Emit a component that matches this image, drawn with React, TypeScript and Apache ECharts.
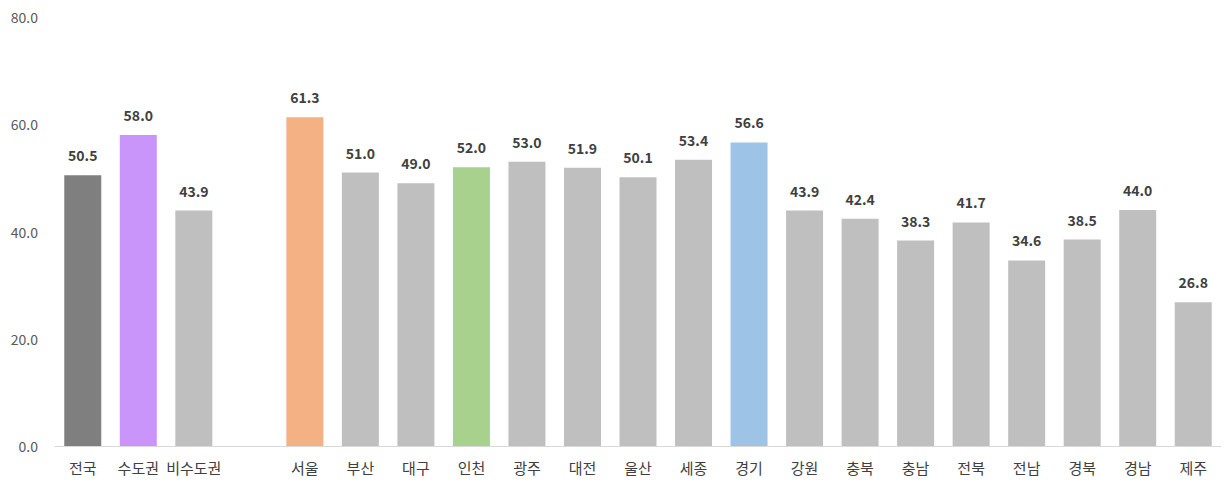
import React, { useEffect, useRef } from "react";
import * as echarts from "echarts";

const categories = ["전국", "수도권", "비수도권", "", "서울", "부산", "대구", "인천", "광주", "대전", "울산", "세종", "경기", "강원", "충북", "충남", "전북", "전남", "경북", "경남", "제주"];
const values: (number | null)[] = [50.5, 58.0, 43.9, null, 61.3, 51.0, 49.0, 52.0, 53.0, 51.9, 50.1, 53.4, 56.6, 43.9, 42.4, 38.3, 41.7, 34.6, 38.5, 44.0, 26.8];
const barColors = ["#7f7f7f", "#c995fb", "#bfbfbf", "#bfbfbf", "#f4b183", "#bfbfbf", "#bfbfbf", "#a9d18e", "#bfbfbf", "#bfbfbf", "#bfbfbf", "#bfbfbf", "#9dc3e6", "#bfbfbf", "#bfbfbf", "#bfbfbf", "#bfbfbf", "#bfbfbf", "#bfbfbf", "#bfbfbf", "#bfbfbf"];

export default function App() {
  const ref = useRef<HTMLDivElement>(null);
  useEffect(() => {
    if (!ref.current) return;
    const chart = echarts.init(ref.current, null, { renderer: "svg" });
    const font = "'Noto Sans CJK KR', 'Noto Sans', sans-serif";
    chart.setOption({
      animation: false,
      textStyle: { fontFamily: font },
      grid: { left: 55, right: 5, top: 17, bottom: 40 },
      xAxis: {
        type: "category",
        data: categories,
        axisLine: { lineStyle: { color: "#d9d9d9", width: 1 } },
        axisTick: { show: false },
        axisLabel: { color: "#404040", fontSize: 15, margin: 14, interval: 0, fontFamily: font },
      },
      yAxis: {
        type: "value",
        min: 0,
        max: 80,
        interval: 20,
        splitLine: { show: false },
        axisLine: { show: false },
        axisTick: { show: false },
        axisLabel: { color: "#595959", fontSize: 14, margin: 17, formatter: (v: number) => v.toFixed(1), fontFamily: font },
      },
      series: [
        {
          type: "bar",
          barWidth: 37,
          data: values.map((v, i) => ({ value: v, itemStyle: { color: barColors[i] } })),
          label: {
            show: true,
            position: "top",
            distance: 13,
            color: "#404040",
            fontSize: 14,
            fontWeight: "bold",
            fontFamily: font,
            formatter: (p: any) => (p.value == null ? "" : Number(p.value).toFixed(1)),
          },
        },
      ],
    });
    return () => chart.dispose();
  }, []);
  return <div ref={ref} style={{ width: 1226, height: 486, position: "absolute", left: 0, top: 0 }} />;
}
